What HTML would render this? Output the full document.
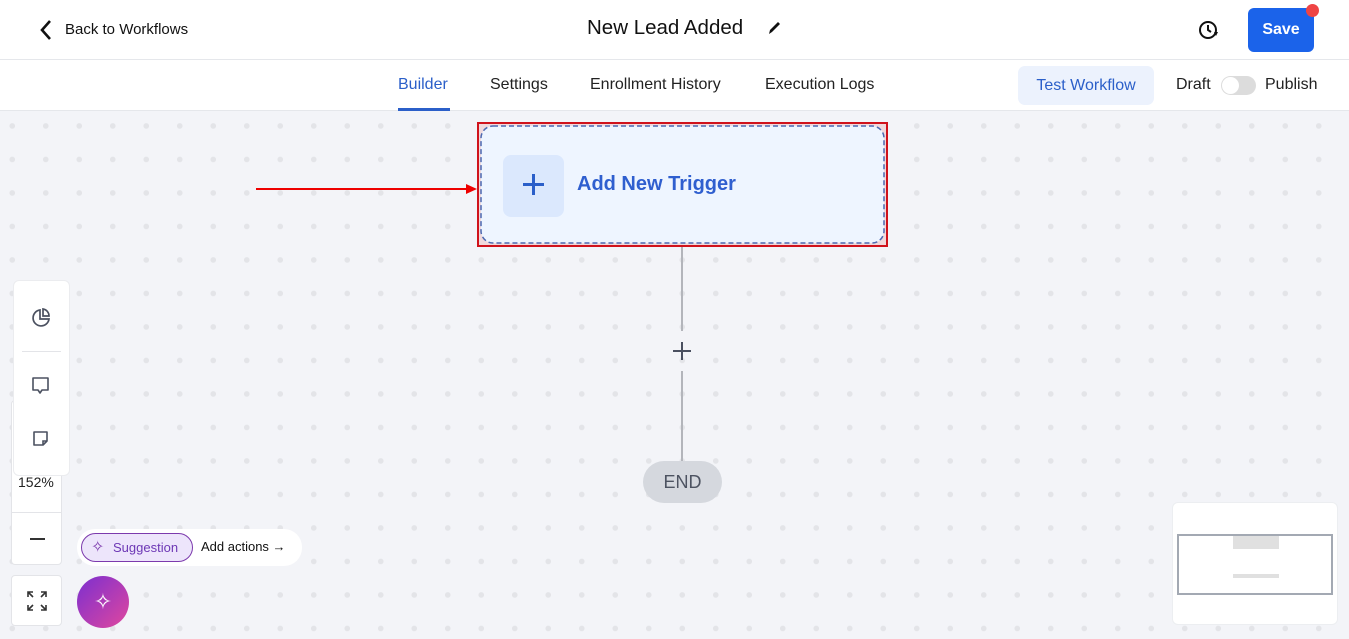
<!DOCTYPE html>
<html><head><style>
*{margin:0;padding:0;box-sizing:border-box}
body{width:1349px;height:639px;overflow:hidden;font-family:"Liberation Sans",sans-serif;background:#fff;position:relative;color:#111}
.abs{position:absolute}
#canvas{position:absolute;left:0;top:111px;width:1349px;height:528px;background-color:#f3f4f8;
background-image:radial-gradient(circle,#e3e4e8 2.6px,transparent 3px);background-size:33.5px 33.5px;background-position:-4.5px -1.8px}
.tab{position:absolute;top:76px;font-size:16px;color:#222}
</style></head><body>
<div class="abs" style="left:0;top:59px;width:1349px;height:1px;background:#e5e7eb"></div>
<div class="abs" style="left:0;top:110px;width:1349px;height:1px;background:#e5e7eb"></div>
<svg class="abs" style="left:38px;top:19px" width="16" height="22"><path d="M12 2 L4 11 L12 20" fill="none" stroke="#111" stroke-width="2.6"/></svg>
<div class="abs" style="left:65px;top:21px;font-size:15px">Back to Workflows</div>
<div class="abs" style="left:587px;top:16px;font-size:20.5px">New Lead Added</div>
<svg class="abs" style="left:767px;top:20px" width="14" height="16"><path d="M2 14 L3 10 L11 2 L13 4 L5 12 Z" fill="#111"/></svg>
<svg class="abs" style="left:1197px;top:18px" width="24" height="24"><circle cx="11" cy="12" r="8" fill="none" stroke="#111" stroke-width="2"/><path d="M11 7 V12 L14 14" fill="none" stroke="#111" stroke-width="2"/><path d="M17 14 L21 14 L19 18Z" fill="#111"/></svg>
<div class="abs" style="left:1248px;top:8px;width:66px;height:44px;background:#1b63ea;border-radius:6px;color:#fff;font-weight:bold;font-size:16px;text-align:center;line-height:44px">Save</div>
<div class="abs" style="left:1306px;top:4px;width:13px;height:13px;background:#ef4444;border-radius:50%"></div>
<div class="tab" style="left:398px;color:#2b5fc9">Builder</div>
<div class="abs" style="left:398px;top:108px;width:52px;height:3px;background:#2b5fc9"></div>
<div class="tab" style="left:490px">Settings</div>
<div class="tab" style="left:590px">Enrollment History</div>
<div class="tab" style="left:765px">Execution Logs</div>
<div class="abs" style="left:1018px;top:66px;width:136px;height:39px;background:#ecf2fd;border-radius:7px;color:#2b5fc9;font-size:16px;text-align:center;line-height:39px">Test Workflow</div>
<div class="tab" style="left:1176px">Draft</div>
<div class="abs" style="left:1221px;top:76px;width:35px;height:19px;background:#dcdcdc;border-radius:10px"></div>
<div class="abs" style="left:1222px;top:77px;width:17px;height:17px;background:#fff;border-radius:50%"></div>
<div class="tab" style="left:1265px">Publish</div>
<div id="canvas"></div>
<div class="abs" style="left:256px;top:188px;width:218px;height:1.5px;background:#e00"></div>
<svg class="abs" style="left:466px;top:183px" width="12" height="12"><path d="M0 1 L11 6 L0 11Z" fill="#e00"/></svg>
<div class="abs" style="left:477px;top:122px;width:411px;height:125px;border:2px solid #d0121b;background:#f0d9dc"></div>
<svg class="abs" style="left:480px;top:125px" width="405" height="119"><rect x="1" y="1" width="403" height="117" rx="12" fill="#eef5ff" stroke="#4c68b0" stroke-width="1.5" stroke-dasharray="5 3"/></svg>
<div class="abs" style="left:503px;top:155px;width:61px;height:62px;background:#dbe8fd;border-radius:8px"></div>
<div class="abs" style="left:523px;top:183px;width:21px;height:3px;background:#2b5fc9"></div>
<div class="abs" style="left:532px;top:174px;width:3px;height:21px;background:#2b5fc9"></div>
<div class="abs" style="left:577px;top:173px;font-size:20px;font-weight:bold;color:#2f5fcf">Add New Trigger</div>
<div class="abs" style="left:681px;top:247px;width:2px;height:84px;background:#b3b5bb"></div>
<div class="abs" style="left:673px;top:350px;width:18px;height:2px;background:#4a5060"></div>
<div class="abs" style="left:681px;top:342px;width:2px;height:18px;background:#4a5060"></div>
<div class="abs" style="left:681px;top:371px;width:2px;height:92px;background:#b3b5bb"></div>
<div class="abs" style="left:643px;top:461px;width:79px;height:42px;background:#d5d8de;border-radius:21px;color:#4d5361;font-size:18px;text-align:center;line-height:42px">END</div>
<div class="abs" style="left:11px;top:400px;width:51px;height:165px;background:#fff;border:1px solid #e3e4e8;border-radius:4px"></div>
<div class="abs" style="left:18px;top:474px;font-size:14px;color:#222">152%</div>
<div class="abs" style="left:11px;top:512px;width:51px;height:1px;background:#e3e4e8"></div>
<div class="abs" style="left:30px;top:538px;width:15px;height:2px;background:#333"></div>
<div class="abs" style="left:13px;top:280px;width:57px;height:196px;background:#fff;border:1px solid #ebecef;border-radius:6px"></div>
<div class="abs" style="left:22px;top:351px;width:39px;height:1px;background:#e3e4e8"></div>
<svg class="abs" style="left:29px;top:306px" width="24" height="24"><path d="M11 4 A8 8 0 1 0 20 13 H11Z" fill="none" stroke="#4b5160" stroke-width="1.7"/><path d="M14 3 A7 7 0 0 1 20 10 H14Z" fill="none" stroke="#4b5160" stroke-width="1.7"/></svg>
<svg class="abs" style="left:31px;top:376px" width="20" height="20"><path d="M2 2 H17 V14 H11 L9 17 L7 14 H2Z" fill="none" stroke="#4b5160" stroke-width="1.6" stroke-linejoin="round"/></svg>
<svg class="abs" style="left:32px;top:430px" width="18" height="18"><path d="M2 2 H15 V11 L11 15 H2Z" fill="none" stroke="#4b5160" stroke-width="1.6" stroke-linejoin="round"/><path d="M11 15 V11 H15" fill="none" stroke="#4b5160" stroke-width="1.6"/></svg>
<div class="abs" style="left:11px;top:575px;width:51px;height:51px;background:#fff;border:1px solid #e3e4e8;border-radius:4px"></div>
<svg class="abs" style="left:27px;top:591px" width="20" height="20" stroke="#333" stroke-width="1.6" fill="none"><path d="M1 6V1H6M1 1L6 6M19 6V1H14M19 1L14 6M1 14V19H6M1 19L6 14M19 14V19H14M19 19L14 14"/></svg>
<div class="abs" style="left:77px;top:529px;width:225px;height:37px;background:#fff;border-radius:18px"></div>
<div class="abs" style="left:81px;top:533px;width:112px;height:29px;background:#ede5fb;border:1px solid #7c3aad;border-radius:15px;color:#6d37b5;font-size:13px;line-height:27px;padding-left:31px">Suggestion</div>
<div class="abs" style="left:91px;top:537px;color:#7c3aad;font-size:16px">✧</div>
<div class="abs" style="left:201px;top:539px;font-size:13px;color:#111">Add actions →</div>
<div class="abs" style="left:77px;top:576px;width:52px;height:52px;border-radius:50%;background:linear-gradient(135deg,#7b2fd0,#e0479e);color:#fff;text-align:center;line-height:52px;font-size:22px">✧</div>
<div class="abs" style="left:1172px;top:502px;width:166px;height:123px;background:#fff;border-radius:6px;border:1px solid #eceef1"></div>
<div class="abs" style="left:1177px;top:534px;width:156px;height:61px;border:2px solid #a3a9b3"></div>
<div class="abs" style="left:1233px;top:536px;width:46px;height:13px;background:#e0e0e0"></div>
<div class="abs" style="left:1233px;top:574px;width:46px;height:4px;background:#e0e0e0"></div>
</body></html>
